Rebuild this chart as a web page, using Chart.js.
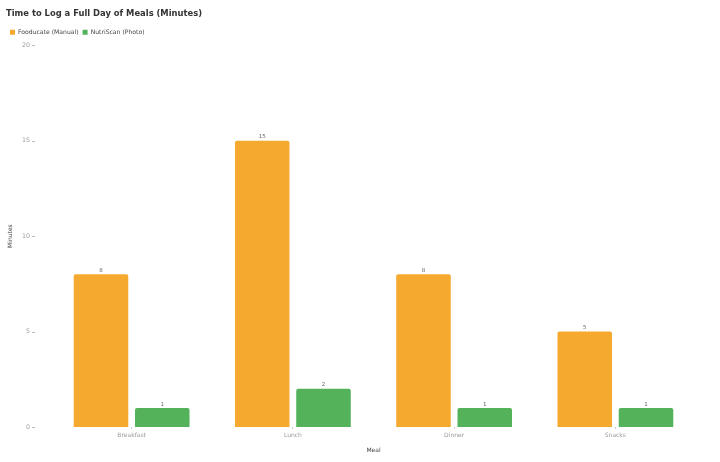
<!DOCTYPE html>
<html>
<head>
<meta charset="utf-8">
<script src="https://cdn.jsdelivr.net/npm/chart.js@4"></script>
<style>
  html, body { margin: 0; padding: 0; background: #fff; }
  #wrap { width: 720px; height: 462px; }
</style>
</head>
<body>
<div id="wrap"><canvas id="chart"></canvas></div>
<script>
const meals = ['Breakfast', 'Lunch', 'Dinner', 'Snacks'];
const fooducate = [8, 15, 8, 5];
const nutriscan = [1, 2, 1, 1];
const yTicks = [0, 5, 10, 15, 20];

Chart.defaults.font.family = 'DejaVu Sans, sans-serif';

// value labels above each bar, plus the little dash after each y tick label
const extras = {
    id: 'extras',
    afterDatasetsDraw(chart) {
        const ctx = chart.ctx;
        ctx.save();
        ctx.font = '5.5px DejaVu Sans';
        ctx.fillStyle = '#666';
        ctx.textAlign = 'center';
        ctx.textBaseline = 'bottom';
        chart.data.datasets.forEach((ds, i) => {
            chart.getDatasetMeta(i).data.forEach((bar, j) => {
                ctx.fillText(ds.data[j], bar.x, bar.y - 1);
            });
        });

        const y = chart.scales.y;
        const left = chart.chartArea.left;
        ctx.strokeStyle = '#bbb';
        ctx.lineWidth = 1;
        y.ticks.forEach(t => {
            const py = Math.round(y.getPixelForValue(t.value)) + 0.5;
            ctx.beginPath();
            ctx.moveTo(left - 19, py);
            ctx.lineTo(left - 16, py);
            ctx.stroke();
        });
        ctx.restore();
    }
};

new Chart(document.getElementById('chart'), {
    type: 'bar',
    data: {
        labels: meals,
        datasets: [
            { label: 'Fooducate (Manual)', data: fooducate, backgroundColor: '#F5A92F', borderRadius: 2 },
            { label: 'NutriScan (Photo)', data: nutriscan, backgroundColor: '#53B25A', borderRadius: 2 }
        ]
    },
    options: {
        responsive: true,
        maintainAspectRatio: false,
        animation: false,
        layout: { padding: { left: 6, right: 24, top: 0, bottom: 0 } },
        categoryPercentage: 0.76,
        barPercentage: 0.89,
        plugins: {
            title: {
                display: true,
                text: 'Time to Log a Full Day of Meals (Minutes)',
                align: 'start',
                color: '#333',
                font: { size: 8.4, weight: 'bold' },
                padding: { top: 9, bottom: 6 }
            },
            legend: {
                align: 'start',
                labels: { boxWidth: 5, boxHeight: 5, font: { size: 6.1 }, color: '#444', padding: 4 }
            },
            tooltip: { enabled: false }
        },
        scales: {
            x: {
                afterFit: axis => { axis.height = 35; },
                grid: { drawOnChartArea: false, offset: false, tickLength: 2, color: '#ccc' },
                border: { display: false },
                ticks: { color: '#999', font: { size: 6 }, padding: 3 },
                title: { display: true, text: 'Meal', color: '#444', font: { size: 6 }, padding: { top: 4, bottom: 8 } }
            },
            y: {
                min: 0,
                max: 20,
                afterBuildTicks: axis => { axis.ticks = yTicks.map(v => ({ value: v })); },
                afterFit: axis => { axis.width = 45; },
                grid: { display: false },
                border: { display: false },
                ticks: { color: '#999', font: { size: 6.3 }, padding: 13 },
                title: { display: true, text: 'Minutes', color: '#444', font: { size: 6 }, padding: { top: 1, bottom: 2 } }
            }
        }
    },
    plugins: [extras]
});
</script>
</body>
</html>
